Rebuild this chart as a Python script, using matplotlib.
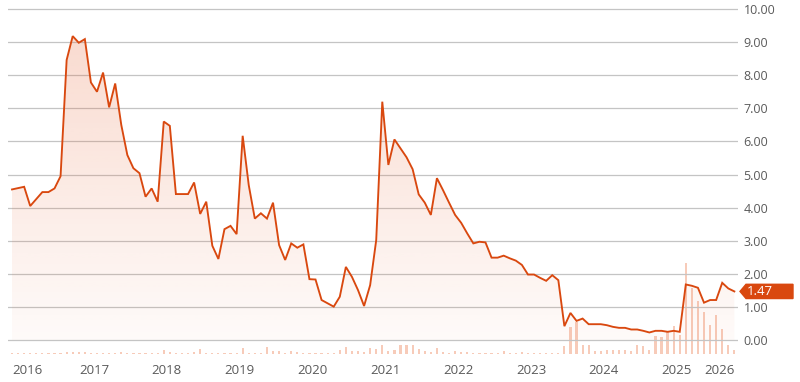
import numpy as np
import matplotlib
matplotlib.use("Agg")
import matplotlib.pyplot as plt
from matplotlib import transforms
from matplotlib.patches import Polygon

# monthly closing values
price = [4.55, 4.59, 4.63, 4.05, 4.26, 4.47, 4.47, 4.58, 4.95, 8.46,
         9.18, 8.98, 9.09, 7.78, 7.50, 8.08, 7.03, 7.75, 6.50, 5.59,
         5.19, 5.04, 4.33, 4.58, 4.18, 6.60, 6.47, 4.41, 4.41, 4.41,
         4.76, 3.81, 4.18, 2.85, 2.45, 3.35, 3.45, 3.20, 6.17, 4.68,
         3.67, 3.83, 3.67, 4.15, 2.87, 2.42, 2.92, 2.79, 2.89, 1.84,
         1.83, 1.21, 1.11, 1.01, 1.31, 2.21, 1.91, 1.51, 1.03, 1.66,
         3.02, 7.20, 5.29, 6.06, 5.79, 5.52, 5.16, 4.40, 4.15, 3.78,
         4.89, 4.53, 4.15, 3.78, 3.54, 3.22, 2.92, 2.97, 2.95, 2.49,
         2.49, 2.55, 2.47, 2.40, 2.27, 1.98, 1.98, 1.88, 1.79, 1.96,
         1.81, 0.42, 0.82, 0.58, 0.65, 0.48, 0.48, 0.48, 0.45, 0.40,
         0.37, 0.37, 0.32, 0.32, 0.28, 0.23, 0.28, 0.28, 0.25, 0.28,
         0.25, 1.68, 1.64, 1.58, 1.13, 1.21, 1.21, 1.73, 1.56, 1.47]

# monthly volume, arbitrary units
volume = [1, 1, 1, 1, 1, 1, 1, 1, 1, 2,
          2, 2, 2, 1, 1, 1, 1, 1, 2, 1,
          1, 1, 1, 1, 1, 4, 2, 1, 1, 1,
          2, 5, 1, 1, 1, 1, 1, 1, 6, 1,
          1, 1, 7, 3, 3, 1, 3, 2, 1, 1,
          1, 1, 1, 1, 4, 7, 3, 3, 2, 6,
          5, 9, 3, 4, 9, 9, 9, 5, 3, 2,
          6, 2, 1, 3, 2, 2, 1, 1, 1, 1,
          1, 3, 1, 1, 2, 1, 1, 1, 1, 1,
          1, 8, 27, 32, 9, 9, 3, 3, 4, 4,
          4, 4, 3, 9, 8, 4, 18, 17, 22, 28,
          19, 91, 66, 53, 42, 29, 39, 25, 9, 4]

years = ['2016', '2017', '2018', '2019', '2020', '2021',
         '2022', '2023', '2024', '2025', '2026']
first_jan = 1.5  # index of 1 Jan 2016 (series starts mid-Nov 2015)
yticks = np.arange(0, 11)

LINE = '#d9480f'
BAR = '#f7cbb9'
GRID = '#c4c4c4'
TXT = '#5a5a5a'

plt.rcParams['font.family'] = ['Open Sans', 'DejaVu Sans']

x = np.arange(len(price))
xlim = (-0.66, 119.6)
ylim = (-0.42, 10.12)

fig = plt.figure(figsize=(8, 3.82), dpi=100)
rect = [0.01, 0.0733, 0.9125, 0.9136]

# volume bars behind everything
axb = fig.add_axes(rect)
axb.bar(x, volume, width=0.36, color=BAR, linewidth=0)
axb.set_xlim(xlim)
axb.set_ylim(0, max(volume) * 3.84)
axb.axis('off')

ax = fig.add_axes(rect)
ax.patch.set_alpha(0)

# gradient fill under the line
poly = ax.fill_between(x, price, 0, color='none', linewidth=0)
n = 256
grad = np.zeros((n, 1, 4))
grad[:, 0, :3] = matplotlib.colors.to_rgb('#e8693a')
grad[:, 0, 3] = np.linspace(0.03, 0.24, n)
im = ax.imshow(grad, extent=[x[0], x[-1], 0, max(price)], origin='lower',
               aspect='auto', zorder=1, interpolation='bilinear')
im.set_clip_path(poly.get_paths()[0], transform=ax.transData)

ax.plot(x, price, color=LINE, lw=1.35, zorder=3, solid_joinstyle='miter')

for v in yticks:
    ax.axhline(v, color=GRID, lw=0.9, zorder=0.5)

ax.set_xlim(xlim)
ax.set_ylim(ylim)
for s in ax.spines.values():
    s.set_visible(False)

ax.yaxis.tick_right()
ax.set_yticks(yticks)
ax.set_yticklabels(['%.2f' % v for v in yticks])
ax.tick_params(axis='y', length=0, pad=4, labelsize=9, labelcolor=TXT)

tick_pos = [x[0]] + [first_jan + 12 * k for k in range(1, 10)] + [x[-1]]
ax.set_xticks(tick_pos)
ax.set_xticklabels(years)
ax.tick_params(axis='x', length=0, pad=7, labelsize=9.5, labelcolor=TXT)
labels = ax.get_xticklabels()
labels[0].set_ha('left')
labels[-1].set_ha('right')

# last value tag on the right
last = price[-1]
tr = transforms.blended_transform_factory(fig.transFigure, ax.transData)
h = 0.215
tag = Polygon([(740 / 800, last), (746 / 800, last + h), (793 / 800, last + h),
               (793 / 800, last - h), (746 / 800, last - h)],
              closed=True, transform=tr, color=LINE, clip_on=False, zorder=5)
fig.add_artist(tag)
fig.text(747 / 800, last, '%.2f' % last, transform=tr, color='white',
         fontsize=9.5, va='center', ha='left', zorder=6)

fig.savefig('out.png', dpi=100)
